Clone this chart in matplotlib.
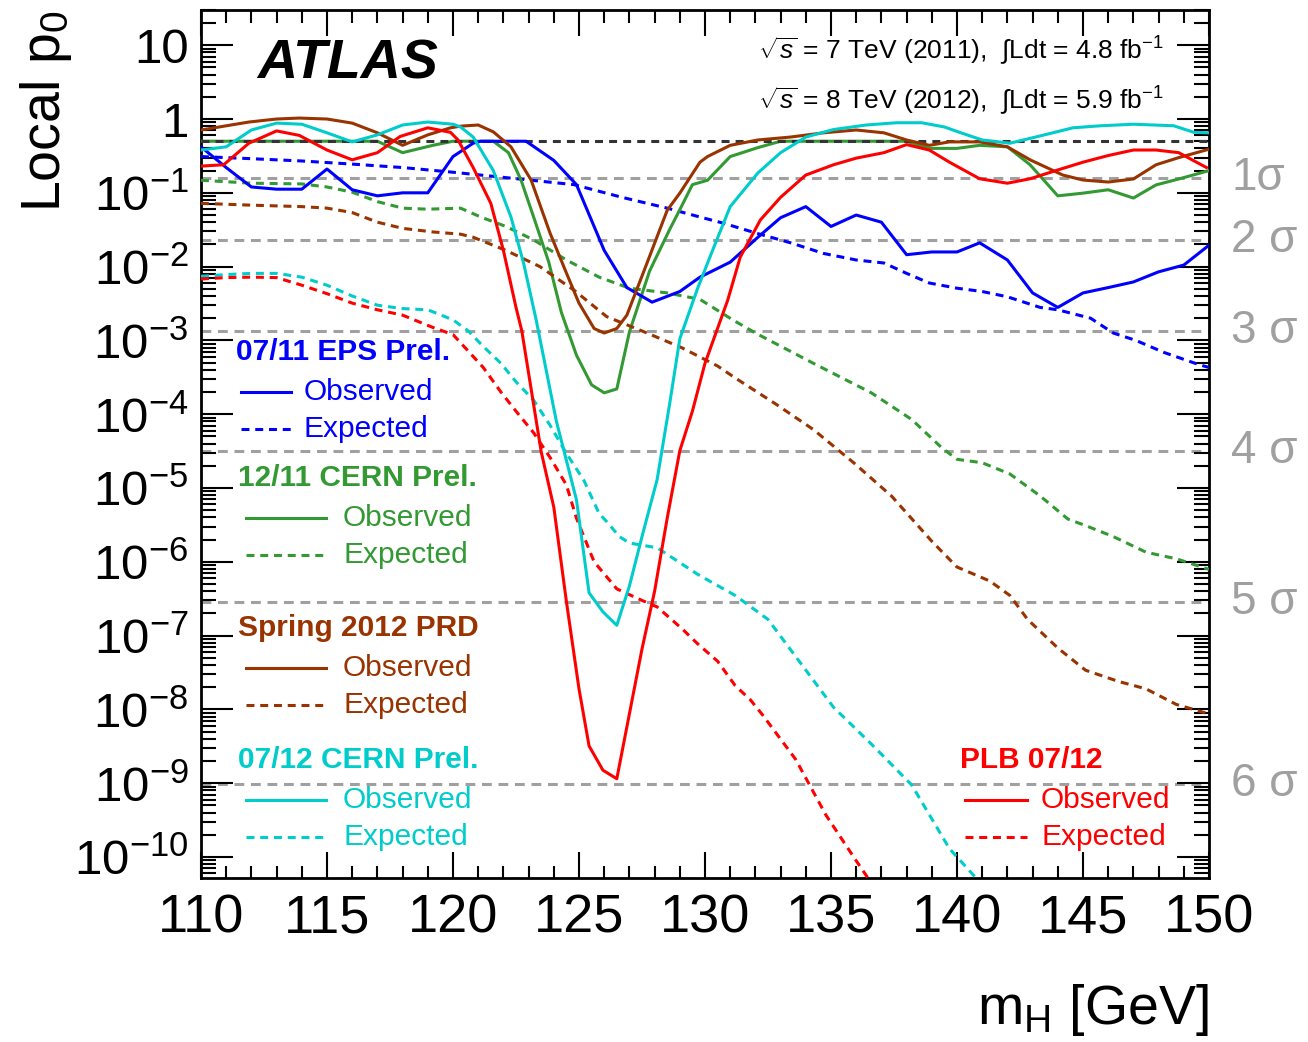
import numpy as np
import matplotlib
matplotlib.use("Agg")
import matplotlib.pyplot as plt
from matplotlib.ticker import LogLocator, FuncFormatter, MultipleLocator, FixedLocator
import matplotlib.transforms as mtransforms

plt.rcParams['font.family'] = ['Liberation Sans', 'DejaVu Sans']
plt.rcParams['mathtext.fontset'] = 'custom'
plt.rcParams['mathtext.rm'] = 'Liberation Sans'
plt.rcParams['mathtext.it'] = 'Liberation Sans:italic'
plt.rcParams['mathtext.bf'] = 'Liberation Sans:bold'

# ---- data: local p0 vs mH ----
eps_obs_m = [110, 111, 112, 113, 114, 115, 116, 117, 118, 119, 120, 120.8, 121.1, 122.9, 124.0, 124.9,
             126.0, 126.9, 127.9, 129.0, 129.8, 131.0, 132.1, 133.0, 134.0, 135.0, 136.0, 137.0, 138.0,
             139.0, 140.0, 140.9, 142.0, 143.0, 144.0, 145.0, 146.0, 147.0, 148.0, 149.0, 150.0]
eps_obs_p = [0.42, 0.22, 0.12, 0.112, 0.112, 0.21, 0.11, 0.091, 0.10, 0.10, 0.31, 0.47, 0.5, 0.5, 0.275, 0.129,
             0.0166, 0.0052, 0.0033, 0.0046, 0.0072, 0.0115, 0.025, 0.046, 0.065, 0.035, 0.050, 0.040, 0.0145,
             0.0158, 0.0158, 0.021, 0.0123, 0.0044, 0.0028, 0.0044, 0.0052, 0.0062, 0.0085, 0.0105, 0.0195]
eps_exp_m = [110, 112, 114, 116, 118, 120, 122, 124.8, 126.7, 128.5, 129.8, 130.7, 132.1, 133.4, 134.7,
             136.0, 137.1, 138.0, 138.9, 140.0, 141.0, 142.0, 143.3, 144.0, 145.3, 146.2, 147.1, 148.2,
             149.6, 150.0]
eps_exp_p = [0.31, 0.29, 0.27, 0.245, 0.22, 0.19, 0.162, 0.129, 0.087, 0.062, 0.047, 0.039, 0.028, 0.021,
             0.0151, 0.0123, 0.0112, 0.0081, 0.006, 0.0051, 0.0046, 0.0039, 0.0028, 0.0026, 0.002, 0.00126,
             0.001, 0.00069, 0.00047, 0.00043]

cern11_obs_m = [110, 111, 112, 113, 114, 115, 116, 117, 118, 119.2, 120, 121.6, 122.2, 122.7, 123.2, 123.8,
                124.3, 124.9, 125.5, 126.0, 126.5, 127.0, 127.8, 128.6, 129.0, 129.5, 130.1, 131.0, 132.1,
                133.0, 134, 135, 136, 137, 138.0, 138.9, 140.0, 140.9, 142.0, 142.9, 144.0, 145.0, 146.0,
                147.0, 147.9, 148.8, 150.0]
cern11_obs_p = [0.5, 0.5, 0.5, 0.5, 0.5, 0.5, 0.5, 0.5, 0.35, 0.44, 0.5, 0.5, 0.35, 0.149, 0.047, 0.0115,
                0.0024, 6.3e-4, 2.5e-4, 1.95e-4, 2.2e-4, 1.3e-3, 8.7e-3, 0.032, 0.059, 0.129, 0.148, 0.31, 0.41,
                0.5, 0.5, 0.5, 0.5, 0.5, 0.5, 0.40, 0.40, 0.44, 0.42, 0.24, 0.091, 0.099, 0.11,
                0.085, 0.128, 0.154, 0.20]
cern11_exp_m = [110, 112, 114, 115, 116, 117, 118, 119, 120.3, 121.1, 122.1, 123.2, 124.5, 125.8, 127.0,
                128.5, 129.8, 131.1, 132.0, 134.3, 136.6, 138.2, 139.4, 140.0, 141.0, 142.1, 143.3, 144.4,
                145.1, 146.2, 147.5, 148.7, 150.0]
cern11_exp_p = [0.148, 0.135, 0.132, 0.120, 0.102, 0.076, 0.062, 0.060, 0.062, 0.047, 0.035, 0.023, 0.0123,
                0.0072, 0.0051, 0.0044, 0.0036, 0.0019, 0.00126, 4.9e-4, 1.95e-4, 8.5e-5, 3.5e-5, 2.45e-5,
                2.2e-5, 1.55e-5, 7.8e-6, 3.8e-6, 3.1e-6, 2.2e-6, 1.35e-6, 1.1e-6, 7.9e-7]

prd_obs_m = [110, 111.9, 113, 113.9, 115, 116, 117, 118, 119, 119.9, 120.3, 121, 121.6, 122.3, 123.1,
             123.85, 124.5, 125.0, 125.6, 126.0, 126.5, 126.9, 127.7, 128.5, 129.0, 129.8, 130.1, 131.0,
             132.1, 133.4, 134.7, 136.0, 137.1, 138.0, 138.9, 139.7, 140.9, 142.0, 142.9, 144.2, 145.0,
             146.0, 147.0, 147.9, 148.8, 150.0]
prd_obs_p = [0.71, 0.91, 1.0, 1.03, 1.0, 0.88, 0.65, 0.44, 0.61, 0.76, 0.80, 0.83, 0.67, 0.42, 0.149,
             0.0285, 0.0082, 0.0032, 0.00145, 0.00126, 0.00145, 0.0022, 0.0112, 0.058, 0.099, 0.26, 0.31, 0.44,
             0.52, 0.57, 0.65, 0.71, 0.65, 0.52, 0.44, 0.49, 0.49, 0.42, 0.28, 0.174, 0.149,
             0.14, 0.154, 0.24, 0.30, 0.39]
prd_exp_m = [110, 112, 114, 115, 116, 117, 118, 119.2, 120.3, 120.8, 122.1, 123.45, 124.8, 126.1, 127.7,
             129.1, 130.5, 131.2, 132.8, 134.3, 135.9, 137.4, 139.0, 140.0, 141.3, 142.1, 142.8, 144.0,
             145.1, 146.4, 147.5, 148.7, 150.0]
prd_exp_p = [0.072, 0.068, 0.065, 0.062, 0.054, 0.040, 0.033, 0.0295, 0.0275, 0.025, 0.0166, 0.010, 0.0048,
             0.0021, 0.00126, 7.9e-4, 4.5e-4, 3.1e-4, 1.38e-4, 6.2e-5, 2.2e-5, 7.8e-6, 1.9e-6, 8.5e-7,
             5.5e-7, 3.5e-7, 1.66e-7, 6.8e-8, 3.4e-8, 2.4e-8, 1.9e-8, 1.17e-8, 8.7e-9]

cern12_obs_m = [110, 111, 112, 113, 114, 115, 116, 117, 118, 119, 120, 120.3, 120.8, 121.6, 122.3, 122.8,
                123.3, 124.1, 124.9, 125.4, 125.95, 126.5, 127.0, 127.5, 128.1, 128.6, 129.0, 129.7, 130.3,
                131.0, 132.1, 133.0, 134.0, 135.1, 136.4, 137.6, 138.6, 139.5, 140.1, 141.0, 142.1, 143.3,
                144.6, 145.7, 147.0, 148.6, 149.4, 150.0]
cern12_obs_p = [0.38, 0.42, 0.71, 0.88, 0.85, 0.65, 0.49, 0.61, 0.83, 0.91, 0.85, 0.78, 0.57, 0.20, 0.047,
                0.0112, 0.0019, 8.1e-5, 6.9e-6, 3.8e-7, 2.1e-7, 1.38e-7, 4.7e-7, 2.2e-6, 1.3e-5, 1.4e-4,
                1.05e-3, 0.005, 0.0166, 0.065, 0.186, 0.35, 0.57, 0.72, 0.83, 0.89, 0.89, 0.78, 0.66, 0.52,
                0.47, 0.59, 0.76, 0.81, 0.85, 0.81, 0.66, 0.65]
cern12_exp_m = [110, 111, 112, 113, 114, 115, 116, 117, 118, 119, 120, 120.6, 121.2, 121.9, 122.5, 123.2,
                123.85, 124.5, 125.2, 125.8, 126.1, 126.6, 127.0, 128.1, 129.7, 131.2, 132.5, 133.6, 135.1,
                136.6, 138.2, 139.7, 140.8, 141.5]
cern12_exp_p = [7.4e-3, 7.8e-3, 8.1e-3, 8.1e-3, 7.2e-3, 5.6e-3, 4.0e-3, 3.0e-3, 2.7e-3, 2.6e-3, 1.9e-3,
                1.35e-3, 8.3e-4, 4.9e-4, 2.75e-4, 1.55e-4, 7.1e-5, 2.95e-5, 1.26e-5, 4.5e-6, 3.5e-6, 2.2e-6,
                1.8e-6, 1.55e-6, 6.8e-7, 3.5e-7, 1.66e-7, 5.2e-8, 1.07e-8, 3.4e-9, 9.5e-10, 1.3e-10, 5.0e-11,
                1.6e-11]

plb_obs_m = [110, 110.9, 111.9, 113, 113.9, 115, 116, 117, 117.9, 119, 119.9, 120.2, 120.8, 121.5, 122.0,
             122.5, 122.73, 123.5, 124.0, 124.5, 125.0, 125.4, 125.95, 126.5, 127.0, 127.5, 128.0, 128.5,
             129.0, 129.5, 130.0, 130.9, 131.4, 132.2, 133.0, 134.0, 135.1, 136.0, 137.1, 138.0, 138.9,
             139.7, 140.9, 142.0, 142.9, 144.0, 145.0, 146.0, 147.0, 147.9, 148.8, 149.9]
plb_obs_p = [0.23, 0.24, 0.47, 0.69, 0.60, 0.38, 0.28, 0.35, 0.58, 0.76, 0.66, 0.52, 0.22, 0.072, 0.0166,
             0.0028, 1.35e-3, 3.1e-5, 5.5e-6, 2.9e-7, 1.9e-8, 3.2e-9, 1.5e-9, 1.15e-9, 8.7e-9, 6.6e-8, 4e-7,
             3.9e-6, 3.2e-5, 1.1e-4, 4.9e-4, 3.5e-3, 0.0135, 0.043, 0.087, 0.174, 0.24, 0.295, 0.35, 0.45,
             0.38, 0.26, 0.155, 0.135, 0.155, 0.204, 0.26, 0.32, 0.38, 0.38, 0.35, 0.22]
plb_exp_m = [110, 111, 112, 113, 114, 115, 116, 117, 118, 119.2, 120, 120.6, 121.2, 121.9, 122.5, 123.2,
             123.85, 124.5, 124.9, 125.6, 126.5, 127.5, 128.1, 129.1, 129.7, 130.5, 131.2, 131.8, 132.3,
             133.6, 134.8, 135.9, 136.5, 137.2]
plb_exp_p = [6.8e-3, 7.1e-3, 7.2e-3, 7.1e-3, 5.6e-3, 4.3e-3, 3.2e-3, 2.6e-3, 2.2e-3, 1.5e-3, 1.2e-3, 7.2e-4,
             4.3e-4, 2.0e-4, 1.1e-4, 5.6e-5, 2.6e-5, 1.1e-5, 3.9e-6, 1.0e-6, 4.3e-7, 3.0e-7, 2.45e-7,
             1.23e-7, 7.8e-8, 4.5e-8, 2.1e-8, 1.35e-8, 8.3e-9, 2.1e-9, 3.7e-10, 1.0e-10, 5.0e-11, 1.6e-11]

sigma_labels = ['1σ', '2 σ', '3 σ', '4 σ', '5 σ', '6 σ']
sigma_p = [0.1587, 0.02275, 1.35e-3, 3.17e-5, 2.87e-7, 9.87e-10]
y_decades = list(range(-10, 2))

series = [
    ('07/11 EPS Prel.', '#0000FF', eps_obs_m, eps_obs_p, eps_exp_m, eps_exp_p),
    ('12/11 CERN Prel.', '#339933', cern11_obs_m, cern11_obs_p, cern11_exp_m, cern11_exp_p),
    ('Spring 2012 PRD', '#993300', prd_obs_m, prd_obs_p, prd_exp_m, prd_exp_p),
    ('07/12 CERN Prel.', '#00CCCC', cern12_obs_m, cern12_obs_p, cern12_exp_m, cern12_exp_p),
    ('PLB 07/12', '#FF0000', plb_obs_m, plb_obs_p, plb_exp_m, plb_exp_p),
]

W, H = 1308, 1042
fig = plt.figure(figsize=(W / 100, H / 100), dpi=100)
ax = fig.add_axes([201 / W, 1 - 878 / H, 1008 / W, 868 / H])

lw = 2.2
dash = (2.6, 1.9)

# sigma reference lines
for p in sigma_p:
    ax.axhline(p, color='#A0A0A0', lw=2.2, dashes=(3.2, 2.2), zorder=1)

for name, col, om, op, em, ep in series:
    ax.plot(em, ep, color=col, lw=lw, dashes=dash, zorder=3)
    # the 12/11 observed curve sits under the p0 = 0.5 line
    ax.plot(om, op, color=col, lw=lw, zorder=3 if name.startswith('12/11') else 5)

ax.axhline(0.5, color='#333333', lw=2.2, dashes=(2.6, 2.0), zorder=4)

ax.set_xlim(110, 150)
ax.set_yscale('log')
ax.set_ylim(5.2e-11, 30)

def ylab(v, pos):
    e = int(round(np.log10(v)))
    if e == 0:
        return '1'
    if e == 1:
        return '10'
    return r'$\mathregular{10^{%d}}$' % e

ax.yaxis.set_major_locator(FixedLocator([10.0 ** e for e in y_decades]))
ax.yaxis.set_minor_locator(LogLocator(base=10, subs=np.arange(2, 10), numticks=30))
ax.yaxis.set_major_formatter(FuncFormatter(ylab))
ax.yaxis.set_minor_formatter(FuncFormatter(lambda v, p: ''))
ax.xaxis.set_major_locator(MultipleLocator(5))
ax.xaxis.set_minor_locator(MultipleLocator(1))

ax.tick_params(which='both', direction='in', top=True, right=True, width=1.5, colors='black')
ax.tick_params(axis='x', which='major', length=19, labelsize=39, pad=11)
ax.tick_params(axis='x', which='minor', length=9)
ax.tick_params(axis='y', which='major', length=23, labelsize=35.5, pad=9)
ax.tick_params(axis='y', which='minor', length=11)
for s in ax.spines.values():
    s.set_linewidth(2)

# sigma labels on the right
trans = mtransforms.blended_transform_factory(ax.transAxes, ax.transData)
for lab, p in zip(sigma_labels, sigma_p):
    ax.text(1.022, p, lab, transform=trans, ha='left', va='center', fontsize=33,
            color='#A0A0A0', clip_on=False)

# ATLAS label and energy text
ax.text(0.056, 0.937, 'ATLAS', transform=ax.transAxes, fontsize=40, fontweight='bold',
        fontstyle='italic', ha='left', va='center')
ax.text(0.955, 0.953, r'$\sqrt{s}$ = 7 TeV (2011),  $\int$Ldt = 4.8 fb$^{-1}$', transform=ax.transAxes,
        fontsize=19, ha='right', va='center')
ax.text(0.955, 0.895, r'$\sqrt{s}$ = 8 TeV (2012),  $\int$Ldt = 5.9 fb$^{-1}$', transform=ax.transAxes,
        fontsize=19, ha='right', va='center')

# hand-made legend blocks
def px(xp):
    return (xp - 201) / 1008

def py(yp):
    return (878 - yp) / 868

blocks = [
    (236, 352, 241, 291, 304),
    (238, 478, 246, 326, 343),
    (238, 628, 246, 326, 343),
    (238, 760, 246, 326, 343),
    (960, 760, 965, 1027, 1041),
]
for (name, col, *_), (hx, hy, l0, l1, tx) in zip(series, blocks):
    ax.text(px(hx), py(hy), name, transform=ax.transAxes, color=col, fontsize=21.5,
            fontweight='bold', ha='left', va='center')
    for k, lbl in enumerate(['Observed', 'Expected']):
        yy = hy + 40 + 37 * k
        ax.plot([px(l0), px(l1)], [py(yy), py(yy)], transform=ax.transAxes, color=col, lw=lw,
                dashes=dash if k else (None, None), clip_on=False)
        ax.text(px(tx), py(yy), lbl, transform=ax.transAxes, color=col, fontsize=21.5,
                ha='left', va='center')

fig.text(0.035, 0.99, r'Local p$_\mathregular{0}$', rotation=90, ha='center', va='top', fontsize=40)
fig.text(1209 / W, 1 - 1024 / H, r'm$_\mathregular{H}$ [GeV]', ha='right', va='baseline', fontsize=40)

fig.savefig('out.png', dpi=100)
